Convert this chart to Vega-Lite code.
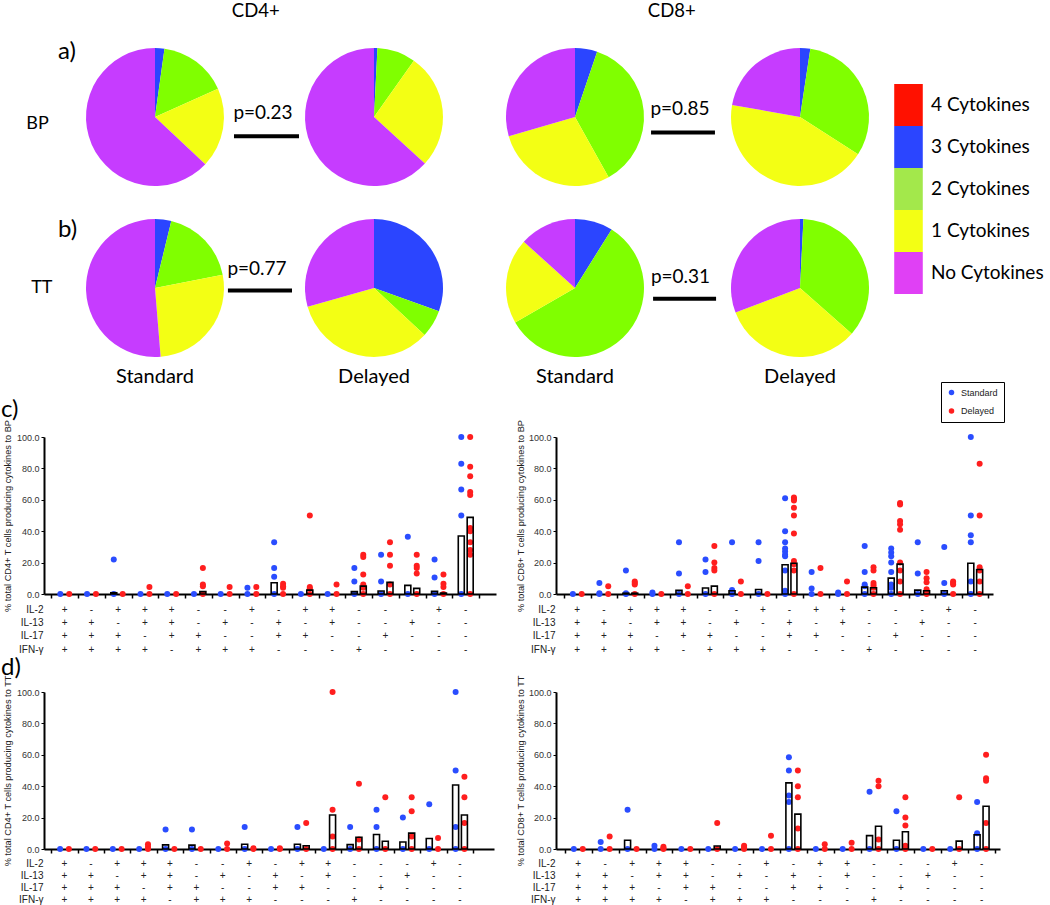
{
"$schema": "https://vega.github.io/schema/vega-lite/v6.json",
"padding": 0,
"background": "white",
"columns": 2,
"align": "none",
"bounds": "flush",
"spacing": {"row": 9, "column": 60},
"resolve": {"scale": {"color": "independent", "xOffset": "independent"}, "legend": {"color": "independent"}},
"config": {
  "view": {"stroke": null},
  "axis": {"grid": false, "labelFont": "Liberation Sans", "titleFont": "Liberation Sans", "labelOverlap": false}
},
"datasets": {
"pies": [
{"cell":"CD4 BP Standard","col":0,"row":0,"k":3,"cat":"3 Cytokines","v":2.2},
{"cell":"CD4 BP Standard","col":0,"row":0,"k":2,"cat":"2 Cytokines","v":16.1},
{"cell":"CD4 BP Standard","col":0,"row":0,"k":1,"cat":"1 Cytokines","v":18.7},
{"cell":"CD4 BP Standard","col":0,"row":0,"k":0,"cat":"No Cytokines","v":63.0},
{"cell":"CD4 BP Delayed","col":1,"row":0,"k":3,"cat":"3 Cytokines","v":0.8},
{"cell":"CD4 BP Delayed","col":1,"row":0,"k":2,"cat":"2 Cytokines","v":9.0},
{"cell":"CD4 BP Delayed","col":1,"row":0,"k":1,"cat":"1 Cytokines","v":27.0},
{"cell":"CD4 BP Delayed","col":1,"row":0,"k":0,"cat":"No Cytokines","v":63.2},
{"cell":"CD8 BP Standard","col":2,"row":0,"k":3,"cat":"3 Cytokines","v":5.2},
{"cell":"CD8 BP Standard","col":2,"row":0,"k":2,"cat":"2 Cytokines","v":36.7},
{"cell":"CD8 BP Standard","col":2,"row":0,"k":1,"cat":"1 Cytokines","v":28.6},
{"cell":"CD8 BP Standard","col":2,"row":0,"k":0,"cat":"No Cytokines","v":29.5},
{"cell":"CD8 BP Delayed","col":3,"row":0,"k":3,"cat":"3 Cytokines","v":2.4},
{"cell":"CD8 BP Delayed","col":3,"row":0,"k":2,"cat":"2 Cytokines","v":31.7},
{"cell":"CD8 BP Delayed","col":3,"row":0,"k":1,"cat":"1 Cytokines","v":43.7},
{"cell":"CD8 BP Delayed","col":3,"row":0,"k":0,"cat":"No Cytokines","v":22.2},
{"cell":"CD4 TT Standard","col":0,"row":1,"k":3,"cat":"3 Cytokines","v":3.8},
{"cell":"CD4 TT Standard","col":0,"row":1,"k":2,"cat":"2 Cytokines","v":18.1},
{"cell":"CD4 TT Standard","col":0,"row":1,"k":1,"cat":"1 Cytokines","v":26.8},
{"cell":"CD4 TT Standard","col":0,"row":1,"k":0,"cat":"No Cytokines","v":51.3},
{"cell":"CD4 TT Delayed","col":1,"row":1,"k":3,"cat":"3 Cytokines","v":30.5},
{"cell":"CD4 TT Delayed","col":1,"row":1,"k":2,"cat":"2 Cytokines","v":6.4},
{"cell":"CD4 TT Delayed","col":1,"row":1,"k":1,"cat":"1 Cytokines","v":33.7},
{"cell":"CD4 TT Delayed","col":1,"row":1,"k":0,"cat":"No Cytokines","v":29.4},
{"cell":"CD8 TT Standard","col":2,"row":1,"k":3,"cat":"3 Cytokines","v":8.9},
{"cell":"CD8 TT Standard","col":2,"row":1,"k":2,"cat":"2 Cytokines","v":57.8},
{"cell":"CD8 TT Standard","col":2,"row":1,"k":1,"cat":"1 Cytokines","v":20.0},
{"cell":"CD8 TT Standard","col":2,"row":1,"k":0,"cat":"No Cytokines","v":13.3},
{"cell":"CD8 TT Delayed","col":3,"row":1,"k":3,"cat":"3 Cytokines","v":0.8},
{"cell":"CD8 TT Delayed","col":3,"row":1,"k":2,"cat":"2 Cytokines","v":35.7},
{"cell":"CD8 TT Delayed","col":3,"row":1,"k":1,"cat":"1 Cytokines","v":32.7},
{"cell":"CD8 TT Delayed","col":3,"row":1,"k":0,"cat":"No Cytokines","v":30.8}
],
"combos": [
{"g":1,"m":"IL-2","s":"+"},{"g":2,"m":"IL-2","s":"-"},{"g":3,"m":"IL-2","s":"+"},{"g":4,"m":"IL-2","s":"+"},{"g":5,"m":"IL-2","s":"+"},{"g":6,"m":"IL-2","s":"-"},{"g":7,"m":"IL-2","s":"-"},{"g":8,"m":"IL-2","s":"+"},{"g":9,"m":"IL-2","s":"-"},{"g":10,"m":"IL-2","s":"+"},{"g":11,"m":"IL-2","s":"+"},{"g":12,"m":"IL-2","s":"-"},{"g":13,"m":"IL-2","s":"-"},{"g":14,"m":"IL-2","s":"-"},{"g":15,"m":"IL-2","s":"+"},{"g":16,"m":"IL-2","s":"-"},
{"g":1,"m":"IL-13","s":"+"},{"g":2,"m":"IL-13","s":"+"},{"g":3,"m":"IL-13","s":"-"},{"g":4,"m":"IL-13","s":"+"},{"g":5,"m":"IL-13","s":"+"},{"g":6,"m":"IL-13","s":"-"},{"g":7,"m":"IL-13","s":"+"},{"g":8,"m":"IL-13","s":"-"},{"g":9,"m":"IL-13","s":"+"},{"g":10,"m":"IL-13","s":"-"},{"g":11,"m":"IL-13","s":"+"},{"g":12,"m":"IL-13","s":"-"},{"g":13,"m":"IL-13","s":"-"},{"g":14,"m":"IL-13","s":"+"},{"g":15,"m":"IL-13","s":"-"},{"g":16,"m":"IL-13","s":"-"},
{"g":1,"m":"IL-17","s":"+"},{"g":2,"m":"IL-17","s":"+"},{"g":3,"m":"IL-17","s":"+"},{"g":4,"m":"IL-17","s":"-"},{"g":5,"m":"IL-17","s":"+"},{"g":6,"m":"IL-17","s":"+"},{"g":7,"m":"IL-17","s":"-"},{"g":8,"m":"IL-17","s":"-"},{"g":9,"m":"IL-17","s":"+"},{"g":10,"m":"IL-17","s":"+"},{"g":11,"m":"IL-17","s":"-"},{"g":12,"m":"IL-17","s":"-"},{"g":13,"m":"IL-17","s":"+"},{"g":14,"m":"IL-17","s":"-"},{"g":15,"m":"IL-17","s":"-"},{"g":16,"m":"IL-17","s":"-"},
{"g":1,"m":"IFN-γ","s":"+"},{"g":2,"m":"IFN-γ","s":"+"},{"g":3,"m":"IFN-γ","s":"+"},{"g":4,"m":"IFN-γ","s":"+"},{"g":5,"m":"IFN-γ","s":"-"},{"g":6,"m":"IFN-γ","s":"+"},{"g":7,"m":"IFN-γ","s":"+"},{"g":8,"m":"IFN-γ","s":"+"},{"g":9,"m":"IFN-γ","s":"-"},{"g":10,"m":"IFN-γ","s":"-"},{"g":11,"m":"IFN-γ","s":"-"},{"g":12,"m":"IFN-γ","s":"+"},{"g":13,"m":"IFN-γ","s":"-"},{"g":14,"m":"IFN-γ","s":"-"},{"g":15,"m":"IFN-γ","s":"-"},{"g":16,"m":"IFN-γ","s":"-"}
],
"dots": [
{"p":"CD4BP","g":1,"t":"Standard","v":0},{"p":"CD4BP","g":1,"t":"Delayed","v":0},
{"p":"CD4BP","g":2,"t":"Standard","v":0},{"p":"CD4BP","g":2,"t":"Delayed","v":0},
{"p":"CD4BP","g":3,"t":"Standard","v":22},{"p":"CD4BP","g":3,"t":"Standard","v":0},{"p":"CD4BP","g":3,"t":"Delayed","v":0},
{"p":"CD4BP","g":4,"t":"Standard","v":0},{"p":"CD4BP","g":4,"t":"Delayed","v":4.5},{"p":"CD4BP","g":4,"t":"Delayed","v":0},
{"p":"CD4BP","g":5,"t":"Standard","v":0},{"p":"CD4BP","g":5,"t":"Delayed","v":0},
{"p":"CD4BP","g":6,"t":"Standard","v":0},{"p":"CD4BP","g":6,"t":"Delayed","v":16.5},{"p":"CD4BP","g":6,"t":"Delayed","v":6},{"p":"CD4BP","g":6,"t":"Delayed","v":5},{"p":"CD4BP","g":6,"t":"Delayed","v":0},
{"p":"CD4BP","g":7,"t":"Standard","v":0},{"p":"CD4BP","g":7,"t":"Delayed","v":4.5},{"p":"CD4BP","g":7,"t":"Delayed","v":0},
{"p":"CD4BP","g":8,"t":"Standard","v":4},{"p":"CD4BP","g":8,"t":"Standard","v":0},{"p":"CD4BP","g":8,"t":"Delayed","v":4.5},{"p":"CD4BP","g":8,"t":"Delayed","v":0},
{"p":"CD4BP","g":9,"t":"Standard","v":33},{"p":"CD4BP","g":9,"t":"Standard","v":16.5},{"p":"CD4BP","g":9,"t":"Standard","v":11},{"p":"CD4BP","g":9,"t":"Standard","v":0},{"p":"CD4BP","g":9,"t":"Delayed","v":6.5},{"p":"CD4BP","g":9,"t":"Delayed","v":5},{"p":"CD4BP","g":9,"t":"Delayed","v":4},{"p":"CD4BP","g":9,"t":"Delayed","v":0},
{"p":"CD4BP","g":10,"t":"Standard","v":0},{"p":"CD4BP","g":10,"t":"Delayed","v":50},{"p":"CD4BP","g":10,"t":"Delayed","v":4.5},{"p":"CD4BP","g":10,"t":"Delayed","v":3.5},{"p":"CD4BP","g":10,"t":"Delayed","v":0},
{"p":"CD4BP","g":11,"t":"Standard","v":0},{"p":"CD4BP","g":11,"t":"Delayed","v":6},{"p":"CD4BP","g":11,"t":"Delayed","v":0},
{"p":"CD4BP","g":12,"t":"Standard","v":16.5},{"p":"CD4BP","g":12,"t":"Standard","v":8},{"p":"CD4BP","g":12,"t":"Standard","v":0},{"p":"CD4BP","g":12,"t":"Delayed","v":25},{"p":"CD4BP","g":12,"t":"Delayed","v":23.5},{"p":"CD4BP","g":12,"t":"Delayed","v":12.5},{"p":"CD4BP","g":12,"t":"Delayed","v":6},{"p":"CD4BP","g":12,"t":"Delayed","v":4},{"p":"CD4BP","g":12,"t":"Delayed","v":0},
{"p":"CD4BP","g":13,"t":"Standard","v":25},{"p":"CD4BP","g":13,"t":"Standard","v":8},{"p":"CD4BP","g":13,"t":"Standard","v":0},{"p":"CD4BP","g":13,"t":"Delayed","v":33},{"p":"CD4BP","g":13,"t":"Delayed","v":25},{"p":"CD4BP","g":13,"t":"Delayed","v":18},{"p":"CD4BP","g":13,"t":"Delayed","v":6},{"p":"CD4BP","g":13,"t":"Delayed","v":0},
{"p":"CD4BP","g":14,"t":"Standard","v":36.5},{"p":"CD4BP","g":14,"t":"Standard","v":0},{"p":"CD4BP","g":14,"t":"Delayed","v":25},{"p":"CD4BP","g":14,"t":"Delayed","v":18},{"p":"CD4BP","g":14,"t":"Delayed","v":16.5},{"p":"CD4BP","g":14,"t":"Delayed","v":13},{"p":"CD4BP","g":14,"t":"Delayed","v":0},
{"p":"CD4BP","g":15,"t":"Standard","v":22},{"p":"CD4BP","g":15,"t":"Standard","v":10.5},{"p":"CD4BP","g":15,"t":"Standard","v":0},{"p":"CD4BP","g":15,"t":"Delayed","v":12.5},{"p":"CD4BP","g":15,"t":"Delayed","v":6.5},{"p":"CD4BP","g":15,"t":"Delayed","v":4.5},{"p":"CD4BP","g":15,"t":"Delayed","v":0},
{"p":"CD4BP","g":16,"t":"Standard","v":100},{"p":"CD4BP","g":16,"t":"Standard","v":83},{"p":"CD4BP","g":16,"t":"Standard","v":66.5},{"p":"CD4BP","g":16,"t":"Standard","v":50},{"p":"CD4BP","g":16,"t":"Standard","v":0},{"p":"CD4BP","g":16,"t":"Delayed","v":100},{"p":"CD4BP","g":16,"t":"Delayed","v":81},{"p":"CD4BP","g":16,"t":"Delayed","v":75},{"p":"CD4BP","g":16,"t":"Delayed","v":65},{"p":"CD4BP","g":16,"t":"Delayed","v":63},{"p":"CD4BP","g":16,"t":"Delayed","v":42},{"p":"CD4BP","g":16,"t":"Delayed","v":40},{"p":"CD4BP","g":16,"t":"Delayed","v":33},{"p":"CD4BP","g":16,"t":"Delayed","v":28},{"p":"CD4BP","g":16,"t":"Delayed","v":25},{"p":"CD4BP","g":16,"t":"Delayed","v":0},
{"p":"CD8BP","g":1,"t":"Standard","v":0},{"p":"CD8BP","g":1,"t":"Delayed","v":0},
{"p":"CD8BP","g":2,"t":"Standard","v":7},{"p":"CD8BP","g":2,"t":"Standard","v":0.5},{"p":"CD8BP","g":2,"t":"Standard","v":0},{"p":"CD8BP","g":2,"t":"Delayed","v":5},{"p":"CD8BP","g":2,"t":"Delayed","v":0},
{"p":"CD8BP","g":3,"t":"Standard","v":15},{"p":"CD8BP","g":3,"t":"Standard","v":0.5},{"p":"CD8BP","g":3,"t":"Standard","v":0},{"p":"CD8BP","g":3,"t":"Delayed","v":8},{"p":"CD8BP","g":3,"t":"Delayed","v":7},{"p":"CD8BP","g":3,"t":"Delayed","v":6},{"p":"CD8BP","g":3,"t":"Delayed","v":0},
{"p":"CD8BP","g":4,"t":"Standard","v":1},{"p":"CD8BP","g":4,"t":"Standard","v":0},{"p":"CD8BP","g":4,"t":"Delayed","v":0},
{"p":"CD8BP","g":5,"t":"Standard","v":33},{"p":"CD8BP","g":5,"t":"Standard","v":13},{"p":"CD8BP","g":5,"t":"Standard","v":0},{"p":"CD8BP","g":5,"t":"Delayed","v":5},{"p":"CD8BP","g":5,"t":"Delayed","v":0},
{"p":"CD8BP","g":6,"t":"Standard","v":22},{"p":"CD8BP","g":6,"t":"Standard","v":14},{"p":"CD8BP","g":6,"t":"Standard","v":0},{"p":"CD8BP","g":6,"t":"Delayed","v":30.5},{"p":"CD8BP","g":6,"t":"Delayed","v":20},{"p":"CD8BP","g":6,"t":"Delayed","v":16.5},{"p":"CD8BP","g":6,"t":"Delayed","v":15},{"p":"CD8BP","g":6,"t":"Delayed","v":0},
{"p":"CD8BP","g":7,"t":"Standard","v":33},{"p":"CD8BP","g":7,"t":"Standard","v":2.5},{"p":"CD8BP","g":7,"t":"Standard","v":0},{"p":"CD8BP","g":7,"t":"Delayed","v":8},{"p":"CD8BP","g":7,"t":"Delayed","v":0},
{"p":"CD8BP","g":8,"t":"Standard","v":33},{"p":"CD8BP","g":8,"t":"Standard","v":21},{"p":"CD8BP","g":8,"t":"Standard","v":0},{"p":"CD8BP","g":8,"t":"Delayed","v":0},
{"p":"CD8BP","g":9,"t":"Standard","v":61},{"p":"CD8BP","g":9,"t":"Standard","v":40},{"p":"CD8BP","g":9,"t":"Standard","v":33},{"p":"CD8BP","g":9,"t":"Standard","v":29},{"p":"CD8BP","g":9,"t":"Standard","v":27},{"p":"CD8BP","g":9,"t":"Standard","v":25},{"p":"CD8BP","g":9,"t":"Standard","v":24},{"p":"CD8BP","g":9,"t":"Standard","v":15},{"p":"CD8BP","g":9,"t":"Standard","v":2},{"p":"CD8BP","g":9,"t":"Standard","v":0},
{"p":"CD8BP","g":9,"t":"Delayed","v":61.5},{"p":"CD8BP","g":9,"t":"Delayed","v":60.5},{"p":"CD8BP","g":9,"t":"Delayed","v":59.5},{"p":"CD8BP","g":9,"t":"Delayed","v":55},{"p":"CD8BP","g":9,"t":"Delayed","v":50},{"p":"CD8BP","g":9,"t":"Delayed","v":38.5},{"p":"CD8BP","g":9,"t":"Delayed","v":21},{"p":"CD8BP","g":9,"t":"Delayed","v":19},{"p":"CD8BP","g":9,"t":"Delayed","v":15},{"p":"CD8BP","g":9,"t":"Delayed","v":0},
{"p":"CD8BP","g":10,"t":"Standard","v":14},{"p":"CD8BP","g":10,"t":"Standard","v":3.5},{"p":"CD8BP","g":10,"t":"Standard","v":0},{"p":"CD8BP","g":10,"t":"Delayed","v":16.5},{"p":"CD8BP","g":10,"t":"Delayed","v":0},
{"p":"CD8BP","g":11,"t":"Standard","v":1},{"p":"CD8BP","g":11,"t":"Standard","v":0},{"p":"CD8BP","g":11,"t":"Delayed","v":8},{"p":"CD8BP","g":11,"t":"Delayed","v":0},
{"p":"CD8BP","g":12,"t":"Standard","v":30.5},{"p":"CD8BP","g":12,"t":"Standard","v":14},{"p":"CD8BP","g":12,"t":"Standard","v":6},{"p":"CD8BP","g":12,"t":"Standard","v":5},{"p":"CD8BP","g":12,"t":"Standard","v":0},{"p":"CD8BP","g":12,"t":"Delayed","v":17},{"p":"CD8BP","g":12,"t":"Delayed","v":15},{"p":"CD8BP","g":12,"t":"Delayed","v":7},{"p":"CD8BP","g":12,"t":"Delayed","v":5.5},{"p":"CD8BP","g":12,"t":"Delayed","v":4},{"p":"CD8BP","g":12,"t":"Delayed","v":0},
{"p":"CD8BP","g":13,"t":"Standard","v":29},{"p":"CD8BP","g":13,"t":"Standard","v":26.5},{"p":"CD8BP","g":13,"t":"Standard","v":24},{"p":"CD8BP","g":13,"t":"Standard","v":20},{"p":"CD8BP","g":13,"t":"Standard","v":14},{"p":"CD8BP","g":13,"t":"Standard","v":6},{"p":"CD8BP","g":13,"t":"Standard","v":4},{"p":"CD8BP","g":13,"t":"Standard","v":0},
{"p":"CD8BP","g":13,"t":"Delayed","v":58},{"p":"CD8BP","g":13,"t":"Delayed","v":57},{"p":"CD8BP","g":13,"t":"Delayed","v":46.5},{"p":"CD8BP","g":13,"t":"Delayed","v":44.5},{"p":"CD8BP","g":13,"t":"Delayed","v":41},{"p":"CD8BP","g":13,"t":"Delayed","v":20},{"p":"CD8BP","g":13,"t":"Delayed","v":15},{"p":"CD8BP","g":13,"t":"Delayed","v":8},{"p":"CD8BP","g":13,"t":"Delayed","v":0},
{"p":"CD8BP","g":14,"t":"Standard","v":33},{"p":"CD8BP","g":14,"t":"Standard","v":13},{"p":"CD8BP","g":14,"t":"Standard","v":0},{"p":"CD8BP","g":14,"t":"Delayed","v":14},{"p":"CD8BP","g":14,"t":"Delayed","v":10},{"p":"CD8BP","g":14,"t":"Delayed","v":7.5},{"p":"CD8BP","g":14,"t":"Delayed","v":3},{"p":"CD8BP","g":14,"t":"Delayed","v":1},{"p":"CD8BP","g":14,"t":"Delayed","v":0},
{"p":"CD8BP","g":15,"t":"Standard","v":30},{"p":"CD8BP","g":15,"t":"Standard","v":7},{"p":"CD8BP","g":15,"t":"Standard","v":0},{"p":"CD8BP","g":15,"t":"Delayed","v":8},{"p":"CD8BP","g":15,"t":"Delayed","v":7},{"p":"CD8BP","g":15,"t":"Delayed","v":6},{"p":"CD8BP","g":15,"t":"Delayed","v":0},
{"p":"CD8BP","g":16,"t":"Standard","v":100},{"p":"CD8BP","g":16,"t":"Standard","v":50},{"p":"CD8BP","g":16,"t":"Standard","v":37.5},{"p":"CD8BP","g":16,"t":"Standard","v":33},{"p":"CD8BP","g":16,"t":"Standard","v":8},{"p":"CD8BP","g":16,"t":"Standard","v":0},{"p":"CD8BP","g":16,"t":"Delayed","v":83},{"p":"CD8BP","g":16,"t":"Delayed","v":50},{"p":"CD8BP","g":16,"t":"Delayed","v":17},{"p":"CD8BP","g":16,"t":"Delayed","v":15},{"p":"CD8BP","g":16,"t":"Delayed","v":8},{"p":"CD8BP","g":16,"t":"Delayed","v":0},
{"p":"CD4TT","g":1,"t":"Standard","v":0},{"p":"CD4TT","g":1,"t":"Delayed","v":0},
{"p":"CD4TT","g":2,"t":"Standard","v":0},{"p":"CD4TT","g":2,"t":"Delayed","v":0},
{"p":"CD4TT","g":3,"t":"Standard","v":0},{"p":"CD4TT","g":3,"t":"Delayed","v":0},
{"p":"CD4TT","g":4,"t":"Standard","v":0},{"p":"CD4TT","g":4,"t":"Delayed","v":3},{"p":"CD4TT","g":4,"t":"Delayed","v":1.5},{"p":"CD4TT","g":4,"t":"Delayed","v":0},
{"p":"CD4TT","g":5,"t":"Standard","v":12.5},{"p":"CD4TT","g":5,"t":"Standard","v":0},{"p":"CD4TT","g":5,"t":"Delayed","v":0},
{"p":"CD4TT","g":6,"t":"Standard","v":12.5},{"p":"CD4TT","g":6,"t":"Standard","v":0},{"p":"CD4TT","g":6,"t":"Delayed","v":0},
{"p":"CD4TT","g":7,"t":"Standard","v":0},{"p":"CD4TT","g":7,"t":"Delayed","v":3.5},{"p":"CD4TT","g":7,"t":"Delayed","v":0},
{"p":"CD4TT","g":8,"t":"Standard","v":14},{"p":"CD4TT","g":8,"t":"Standard","v":0},{"p":"CD4TT","g":8,"t":"Delayed","v":0.5},{"p":"CD4TT","g":8,"t":"Delayed","v":0},
{"p":"CD4TT","g":9,"t":"Standard","v":0},{"p":"CD4TT","g":9,"t":"Delayed","v":0.5},{"p":"CD4TT","g":9,"t":"Delayed","v":0},
{"p":"CD4TT","g":10,"t":"Standard","v":14},{"p":"CD4TT","g":10,"t":"Standard","v":0},{"p":"CD4TT","g":10,"t":"Delayed","v":16.5},{"p":"CD4TT","g":10,"t":"Delayed","v":0},
{"p":"CD4TT","g":11,"t":"Standard","v":0},{"p":"CD4TT","g":11,"t":"Delayed","v":100},{"p":"CD4TT","g":11,"t":"Delayed","v":25},{"p":"CD4TT","g":11,"t":"Delayed","v":8},{"p":"CD4TT","g":11,"t":"Delayed","v":0},
{"p":"CD4TT","g":12,"t":"Standard","v":14},{"p":"CD4TT","g":12,"t":"Standard","v":0},{"p":"CD4TT","g":12,"t":"Delayed","v":41.5},{"p":"CD4TT","g":12,"t":"Delayed","v":6},{"p":"CD4TT","g":12,"t":"Delayed","v":0},
{"p":"CD4TT","g":13,"t":"Standard","v":25},{"p":"CD4TT","g":13,"t":"Standard","v":14},{"p":"CD4TT","g":13,"t":"Standard","v":0},{"p":"CD4TT","g":13,"t":"Delayed","v":33},{"p":"CD4TT","g":13,"t":"Delayed","v":0},
{"p":"CD4TT","g":14,"t":"Standard","v":20},{"p":"CD4TT","g":14,"t":"Standard","v":0},{"p":"CD4TT","g":14,"t":"Delayed","v":33},{"p":"CD4TT","g":14,"t":"Delayed","v":24},{"p":"CD4TT","g":14,"t":"Delayed","v":8},{"p":"CD4TT","g":14,"t":"Delayed","v":0},
{"p":"CD4TT","g":15,"t":"Standard","v":28.5},{"p":"CD4TT","g":15,"t":"Standard","v":0},{"p":"CD4TT","g":15,"t":"Delayed","v":7},{"p":"CD4TT","g":15,"t":"Delayed","v":0},
{"p":"CD4TT","g":16,"t":"Standard","v":100},{"p":"CD4TT","g":16,"t":"Standard","v":50},{"p":"CD4TT","g":16,"t":"Standard","v":14},{"p":"CD4TT","g":16,"t":"Standard","v":0},{"p":"CD4TT","g":16,"t":"Delayed","v":46},{"p":"CD4TT","g":16,"t":"Delayed","v":33},{"p":"CD4TT","g":16,"t":"Delayed","v":16.5},{"p":"CD4TT","g":16,"t":"Delayed","v":0},
{"p":"CD8TT","g":1,"t":"Standard","v":0},{"p":"CD8TT","g":1,"t":"Delayed","v":0},
{"p":"CD8TT","g":2,"t":"Standard","v":4.5},{"p":"CD8TT","g":2,"t":"Standard","v":0},{"p":"CD8TT","g":2,"t":"Delayed","v":8},{"p":"CD8TT","g":2,"t":"Delayed","v":0},
{"p":"CD8TT","g":3,"t":"Standard","v":25},{"p":"CD8TT","g":3,"t":"Standard","v":0},{"p":"CD8TT","g":3,"t":"Delayed","v":0},
{"p":"CD8TT","g":4,"t":"Standard","v":2},{"p":"CD8TT","g":4,"t":"Standard","v":0},{"p":"CD8TT","g":4,"t":"Delayed","v":1.5},{"p":"CD8TT","g":4,"t":"Delayed","v":0.5},{"p":"CD8TT","g":4,"t":"Delayed","v":0},
{"p":"CD8TT","g":5,"t":"Standard","v":0},{"p":"CD8TT","g":5,"t":"Delayed","v":0},
{"p":"CD8TT","g":6,"t":"Standard","v":0},{"p":"CD8TT","g":6,"t":"Delayed","v":16.5},{"p":"CD8TT","g":6,"t":"Delayed","v":0},
{"p":"CD8TT","g":7,"t":"Standard","v":0},{"p":"CD8TT","g":7,"t":"Delayed","v":2},{"p":"CD8TT","g":7,"t":"Delayed","v":1},{"p":"CD8TT","g":7,"t":"Delayed","v":0},
{"p":"CD8TT","g":8,"t":"Standard","v":0},{"p":"CD8TT","g":8,"t":"Delayed","v":8.5},{"p":"CD8TT","g":8,"t":"Delayed","v":0},
{"p":"CD8TT","g":9,"t":"Standard","v":58.5},{"p":"CD8TT","g":9,"t":"Standard","v":50},{"p":"CD8TT","g":9,"t":"Standard","v":34},{"p":"CD8TT","g":9,"t":"Standard","v":30},{"p":"CD8TT","g":9,"t":"Standard","v":0},{"p":"CD8TT","g":9,"t":"Delayed","v":50},{"p":"CD8TT","g":9,"t":"Delayed","v":40},{"p":"CD8TT","g":9,"t":"Delayed","v":33},{"p":"CD8TT","g":9,"t":"Delayed","v":13},{"p":"CD8TT","g":9,"t":"Delayed","v":0},
{"p":"CD8TT","g":10,"t":"Standard","v":0},{"p":"CD8TT","g":10,"t":"Delayed","v":3},{"p":"CD8TT","g":10,"t":"Delayed","v":0},
{"p":"CD8TT","g":11,"t":"Standard","v":0},{"p":"CD8TT","g":11,"t":"Delayed","v":4},{"p":"CD8TT","g":11,"t":"Delayed","v":0},
{"p":"CD8TT","g":12,"t":"Standard","v":36.5},{"p":"CD8TT","g":12,"t":"Standard","v":0},{"p":"CD8TT","g":12,"t":"Delayed","v":43.5},{"p":"CD8TT","g":12,"t":"Delayed","v":40},{"p":"CD8TT","g":12,"t":"Delayed","v":6},{"p":"CD8TT","g":12,"t":"Delayed","v":0},
{"p":"CD8TT","g":13,"t":"Standard","v":24},{"p":"CD8TT","g":13,"t":"Standard","v":0},{"p":"CD8TT","g":13,"t":"Delayed","v":33},{"p":"CD8TT","g":13,"t":"Delayed","v":20},{"p":"CD8TT","g":13,"t":"Delayed","v":15},{"p":"CD8TT","g":13,"t":"Delayed","v":2},{"p":"CD8TT","g":13,"t":"Delayed","v":0},
{"p":"CD8TT","g":14,"t":"Standard","v":0},{"p":"CD8TT","g":14,"t":"Delayed","v":0},
{"p":"CD8TT","g":15,"t":"Standard","v":0},{"p":"CD8TT","g":15,"t":"Delayed","v":33},{"p":"CD8TT","g":15,"t":"Delayed","v":0},
{"p":"CD8TT","g":16,"t":"Standard","v":30},{"p":"CD8TT","g":16,"t":"Standard","v":10},{"p":"CD8TT","g":16,"t":"Standard","v":0},{"p":"CD8TT","g":16,"t":"Delayed","v":60},{"p":"CD8TT","g":16,"t":"Delayed","v":45},{"p":"CD8TT","g":16,"t":"Delayed","v":43.5},{"p":"CD8TT","g":16,"t":"Delayed","v":16.5},{"p":"CD8TT","g":16,"t":"Delayed","v":0}
],
"bars": [
{"p":"CD4BP","g":3,"t":"Standard","v":0.8},{"p":"CD4BP","g":6,"t":"Delayed","v":1.5},{"p":"CD4BP","g":9,"t":"Standard","v":7.2},{"p":"CD4BP","g":10,"t":"Delayed","v":2.5},{"p":"CD4BP","g":12,"t":"Standard","v":1.5},{"p":"CD4BP","g":12,"t":"Delayed","v":5},{"p":"CD4BP","g":13,"t":"Standard","v":1.9},{"p":"CD4BP","g":13,"t":"Delayed","v":7.4},{"p":"CD4BP","g":14,"t":"Standard","v":5.5},{"p":"CD4BP","g":14,"t":"Delayed","v":3.6},{"p":"CD4BP","g":15,"t":"Standard","v":1.7},{"p":"CD4BP","g":15,"t":"Delayed","v":0.6},{"p":"CD4BP","g":16,"t":"Standard","v":36.9},{"p":"CD4BP","g":16,"t":"Delayed","v":48.8},
{"p":"CD8BP","g":3,"t":"Standard","v":0.5},{"p":"CD8BP","g":3,"t":"Delayed","v":0.5},{"p":"CD8BP","g":5,"t":"Standard","v":2.3},{"p":"CD8BP","g":6,"t":"Standard","v":3.8},{"p":"CD8BP","g":6,"t":"Delayed","v":5},{"p":"CD8BP","g":7,"t":"Standard","v":2.1},{"p":"CD8BP","g":8,"t":"Standard","v":2.9},{"p":"CD8BP","g":9,"t":"Standard","v":18.6},{"p":"CD8BP","g":9,"t":"Delayed","v":19.6},{"p":"CD8BP","g":12,"t":"Standard","v":4.4},{"p":"CD8BP","g":12,"t":"Delayed","v":4},{"p":"CD8BP","g":13,"t":"Standard","v":10.1},{"p":"CD8BP","g":13,"t":"Delayed","v":19},{"p":"CD8BP","g":14,"t":"Standard","v":2.5},{"p":"CD8BP","g":14,"t":"Delayed","v":2.1},{"p":"CD8BP","g":15,"t":"Standard","v":2.1},{"p":"CD8BP","g":16,"t":"Standard","v":19.6},{"p":"CD8BP","g":16,"t":"Delayed","v":15.6},
{"p":"CD4TT","g":5,"t":"Standard","v":2.6},{"p":"CD4TT","g":6,"t":"Standard","v":2.5},{"p":"CD4TT","g":8,"t":"Standard","v":3},{"p":"CD4TT","g":10,"t":"Standard","v":3},{"p":"CD4TT","g":10,"t":"Delayed","v":2.1},{"p":"CD4TT","g":11,"t":"Delayed","v":21.7},{"p":"CD4TT","g":12,"t":"Standard","v":2.8},{"p":"CD4TT","g":12,"t":"Delayed","v":7.5},{"p":"CD4TT","g":13,"t":"Standard","v":9.2},{"p":"CD4TT","g":13,"t":"Delayed","v":4.9},{"p":"CD4TT","g":14,"t":"Standard","v":4.5},{"p":"CD4TT","g":14,"t":"Delayed","v":10.1},{"p":"CD4TT","g":15,"t":"Standard","v":6.7},{"p":"CD4TT","g":16,"t":"Standard","v":40.8},{"p":"CD4TT","g":16,"t":"Delayed","v":21.7},
{"p":"CD8TT","g":3,"t":"Standard","v":5.6},{"p":"CD8TT","g":6,"t":"Delayed","v":1.9},{"p":"CD8TT","g":9,"t":"Standard","v":42.1},{"p":"CD8TT","g":9,"t":"Delayed","v":22.2},{"p":"CD8TT","g":12,"t":"Standard","v":8.5},{"p":"CD8TT","g":12,"t":"Delayed","v":14.5},{"p":"CD8TT","g":13,"t":"Standard","v":5.6},{"p":"CD8TT","g":13,"t":"Delayed","v":11},{"p":"CD8TT","g":15,"t":"Delayed","v":5},{"p":"CD8TT","g":16,"t":"Standard","v":9.1},{"p":"CD8TT","g":16,"t":"Delayed","v":27.2}
]
},
"concat": [
{
  "width": 452, "height": 428,
  "resolve": {"scale": {"x": "independent", "y": "independent", "color": "independent"}},
  "layer": [
    {
      "data": {"name": "pies"},
      "transform": [{"filter": "datum.col < 2"}, {"stack": "v", "groupby": ["cell"], "sort": [{"field": "k", "order": "descending"}], "as": ["t0", "t1"], "offset": "normalize"}],
      "mark": {"type": "arc", "radius": 69},
      "encoding": {
        "x": {"field": "col", "type": "quantitative", "scale": {"domain": [0,1], "range": [111,330], "nice": false, "zero": false}, "axis": null},
        "y": {"field": "row", "type": "quantitative", "scale": {"domain": [0,1], "range": [117,288], "nice": false, "zero": false}, "axis": null},
        "theta": {"field": "t0", "type": "quantitative", "scale": {"domain": [0, 1], "range": [0, 6.283185]}, "stack": null},
        "theta2": {"field": "t1"},
        "color": {"field": "cat", "type": "nominal", "scale": {"domain": ["4 Cytokines","3 Cytokines","2 Cytokines","1 Cytokines","No Cytokines"], "range": ["#FF1100","#2B45FF","#80FF00","#F3FF14","#C63CFF"]}, "legend": null}
      }
    },
    {
      "data": {"values": [{"cond": "Standard", "col": 0}, {"cond": "Delayed", "col": 1}]},
      "mark": {"type": "text", "font": "Lato", "fontSize": 20, "align": "center", "baseline": "alphabetic", "color": "black"},
      "encoding": {
        "x": {"field": "col", "type": "quantitative", "scale": {"domain": [0,1], "range": [111,330], "nice": false, "zero": false}, "axis": null},
        "y": {"datum": 1.557, "type": "quantitative", "scale": {"domain": [0,1], "range": [117,288], "nice": false, "zero": false}, "axis": null},
        "text": {"field": "cond"}
      }
    },
    {"data": {"values": [{}]}, "mark": {"type": "text", "font": "Lato", "fontSize": 18.5, "align": "center", "baseline": "alphabetic", "color": "black", "text": "CD4+"},
     "encoding": {"x": {"datum": 0.46, "type": "quantitative", "scale": {"domain": [0,1], "range": [111,330], "nice": false, "zero": false}, "axis": null}, "y": {"datum": -0.5848, "type": "quantitative", "scale": {"domain": [0,1], "range": [117,288], "nice": false, "zero": false}, "axis": null}}},
    {"data": {"values": [{}]}, "mark": {"type": "text", "font": "Lato", "fontSize": 24, "align": "left", "baseline": "alphabetic", "color": "black", "text": "a)"},
     "encoding": {"x": {"datum": -0.4429, "type": "quantitative", "scale": {"domain": [0,1], "range": [111,330], "nice": false, "zero": false}, "axis": null}, "y": {"datum": -0.339, "type": "quantitative", "scale": {"domain": [0,1], "range": [117,288], "nice": false, "zero": false}, "axis": null}}},
    {"data": {"values": [{}]}, "mark": {"type": "text", "font": "Lato", "fontSize": 24, "align": "left", "baseline": "alphabetic", "color": "black", "text": "b)"},
     "encoding": {"x": {"datum": -0.4429, "type": "quantitative", "scale": {"domain": [0,1], "range": [111,330], "nice": false, "zero": false}, "axis": null}, "y": {"datum": 0.7035, "type": "quantitative", "scale": {"domain": [0,1], "range": [117,288], "nice": false, "zero": false}, "axis": null}}},
    {"data": {"values": [{}]}, "mark": {"type": "text", "font": "Lato", "fontSize": 24, "align": "left", "baseline": "alphabetic", "color": "black", "text": "c)"},
     "encoding": {"x": {"datum": -0.7032, "type": "quantitative", "scale": {"domain": [0,1], "range": [111,330], "nice": false, "zero": false}, "axis": null}, "y": {"datum": 1.7544, "type": "quantitative", "scale": {"domain": [0,1], "range": [117,288], "nice": false, "zero": false}, "axis": null}}},
    {"data": {"values": [{}]}, "mark": {"type": "text", "font": "Lato", "fontSize": 24, "align": "left", "baseline": "alphabetic", "color": "black", "text": "d)"},
     "encoding": {"x": {"datum": -0.7032, "type": "quantitative", "scale": {"domain": [0,1], "range": [111,330], "nice": false, "zero": false}, "axis": null}, "y": {"datum": 3.263, "type": "quantitative", "scale": {"domain": [0,1], "range": [117,288], "nice": false, "zero": false}, "axis": null}}},
    {"data": {"values": [{}]}, "mark": {"type": "text", "font": "Lato", "fontSize": 18, "align": "center", "baseline": "alphabetic", "color": "black", "text": "BP"},
     "encoding": {"x": {"datum": -0.5365, "type": "quantitative", "scale": {"domain": [0,1], "range": [111,330], "nice": false, "zero": false}, "axis": null}, "y": {"datum": 0.072, "type": "quantitative", "scale": {"domain": [0,1], "range": [117,288], "nice": false, "zero": false}, "axis": null}}},
    {"data": {"values": [{}]}, "mark": {"type": "text", "font": "Lato", "fontSize": 18, "align": "center", "baseline": "alphabetic", "color": "black", "text": "TT"},
     "encoding": {"x": {"datum": -0.5168, "type": "quantitative", "scale": {"domain": [0,1], "range": [111,330], "nice": false, "zero": false}, "axis": null}, "y": {"datum": 1.0275, "type": "quantitative", "scale": {"domain": [0,1], "range": [117,288], "nice": false, "zero": false}, "axis": null}}},
    {"data": {"values": [{}]}, "mark": {"type": "text", "font": "Lato", "fontSize": 19, "align": "center", "baseline": "alphabetic", "color": "black", "text": "p=0.23"},
     "encoding": {"x": {"datum": 0.4932, "type": "quantitative", "scale": {"domain": [0,1], "range": [111,330], "nice": false, "zero": false}, "axis": null}, "y": {"datum": 0.0135, "type": "quantitative", "scale": {"domain": [0,1], "range": [117,288], "nice": false, "zero": false}, "axis": null}}},
    {"data": {"values": [{}]}, "mark": {"type": "text", "font": "Lato", "fontSize": 19, "align": "center", "baseline": "alphabetic", "color": "black", "text": "p=0.77"},
     "encoding": {"x": {"datum": 0.4658, "type": "quantitative", "scale": {"domain": [0,1], "range": [111,330], "nice": false, "zero": false}, "axis": null}, "y": {"datum": 0.924, "type": "quantitative", "scale": {"domain": [0,1], "range": [117,288], "nice": false, "zero": false}, "axis": null}}},
    {"data": {"values": [{}]}, "mark": {"type": "rule", "strokeWidth": 4, "color": "black"},
     "encoding": {"x": {"datum": 0.3607, "type": "quantitative", "scale": {"domain": [0,1], "range": [111,330], "nice": false, "zero": false}, "axis": null}, "x2": {"datum": 0.6575}, "y": {"datum": 0.113, "type": "quantitative", "scale": {"domain": [0,1], "range": [117,288], "nice": false, "zero": false}, "axis": null}}},
    {"data": {"values": [{}]}, "mark": {"type": "rule", "strokeWidth": 4, "color": "black"},
     "encoding": {"x": {"datum": 0.333, "type": "quantitative", "scale": {"domain": [0,1], "range": [111,330], "nice": false, "zero": false}, "axis": null}, "x2": {"datum": 0.6256}, "y": {"datum": 1.0146, "type": "quantitative", "scale": {"domain": [0,1], "range": [117,288], "nice": false, "zero": false}, "axis": null}}}
  ]
},
{
  "width": 495, "height": 428,
  "resolve": {"scale": {"x": "independent", "y": "independent", "color": "independent"}},
  "layer": [
    {
      "data": {"name": "pies"},
      "transform": [{"filter": "datum.col >= 2"}, {"stack": "v", "groupby": ["cell"], "sort": [{"field": "k", "order": "descending"}], "as": ["t0", "t1"], "offset": "normalize"}],
      "mark": {"type": "arc", "radius": 69},
      "encoding": {
        "x": {"field": "col", "type": "quantitative", "scale": {"domain": [2,3], "range": [19,244], "nice": false, "zero": false}, "axis": null},
        "y": {"field": "row", "type": "quantitative", "scale": {"domain": [0,1], "range": [117,288], "nice": false, "zero": false}, "axis": null},
        "theta": {"field": "t0", "type": "quantitative", "scale": {"domain": [0, 1], "range": [0, 6.283185]}, "stack": null},
        "theta2": {"field": "t1"},
        "color": {"field": "cat", "type": "nominal", "scale": {"domain": ["4 Cytokines","3 Cytokines","2 Cytokines","1 Cytokines","No Cytokines"], "range": ["#FF1100","#2B45FF","#80FF00","#F3FF14","#C63CFF"]}, "legend": null}
      }
    },
    {
      "data": {"values": [{"cat": "4 Cytokines"},{"cat": "3 Cytokines"},{"cat": "2 Cytokines"},{"cat": "1 Cytokines"},{"cat": "No Cytokines"}]},
      "mark": {"type": "arc", "radius": 0},
      "encoding": {
        "color": {"field": "cat", "type": "nominal", "scale": {"domain": ["4 Cytokines","3 Cytokines","2 Cytokines","1 Cytokines","No Cytokines"], "range": ["#FF1100","#2B45FF","#A3E84B","#F3FF14","#E040F5"]},
          "legend": {"orient": "none", "legendX": 331.5, "legendY": 84, "title": null, "symbolType": "M-0.68,-1H0.68V1H-0.68Z", "symbolSize": 1764, "symbolStrokeWidth": 0, "symbolOpacity": 1, "rowPadding": 0, "labelFontSize": 19, "labelFont": "Lato", "labelColor": "black", "labelOffset": 1.5, "padding": 0, "labelLimit": 300}}
      }
    },
    {
      "data": {"values": [{"cond": "Standard", "col": 2}, {"cond": "Delayed", "col": 3}]},
      "mark": {"type": "text", "font": "Lato", "fontSize": 20, "align": "center", "baseline": "alphabetic", "color": "black"},
      "encoding": {
        "x": {"field": "col", "type": "quantitative", "scale": {"domain": [2,3], "range": [19,244], "nice": false, "zero": false}, "axis": null},
        "y": {"datum": 1.557, "type": "quantitative", "scale": {"domain": [0,1], "range": [117,288], "nice": false, "zero": false}, "axis": null},
        "text": {"field": "cond"}
      }
    },
    {"data": {"values": [{}]}, "mark": {"type": "text", "font": "Lato", "fontSize": 18.5, "align": "center", "baseline": "alphabetic", "color": "black", "text": "CD8+"},
     "encoding": {"x": {"datum": 2.43, "type": "quantitative", "scale": {"domain": [2,3], "range": [19,244], "nice": false, "zero": false}, "axis": null}, "y": {"datum": -0.5848, "type": "quantitative", "scale": {"domain": [0,1], "range": [117,288], "nice": false, "zero": false}, "axis": null}}},
    {"data": {"values": [{}]}, "mark": {"type": "text", "font": "Lato", "fontSize": 19, "align": "center", "baseline": "alphabetic", "color": "black", "text": "p=0.85"},
     "encoding": {"x": {"datum": 2.4667, "type": "quantitative", "scale": {"domain": [2,3], "range": [19,244], "nice": false, "zero": false}, "axis": null}, "y": {"datum": -0.0117, "type": "quantitative", "scale": {"domain": [0,1], "range": [117,288], "nice": false, "zero": false}, "axis": null}}},
    {"data": {"values": [{}]}, "mark": {"type": "text", "font": "Lato", "fontSize": 19, "align": "center", "baseline": "alphabetic", "color": "black", "text": "p=0.31"},
     "encoding": {"x": {"datum": 2.4689, "type": "quantitative", "scale": {"domain": [2,3], "range": [19,244], "nice": false, "zero": false}, "axis": null}, "y": {"datum": 0.969, "type": "quantitative", "scale": {"domain": [0,1], "range": [117,288], "nice": false, "zero": false}, "axis": null}}},
    {"data": {"values": [{}]}, "mark": {"type": "rule", "strokeWidth": 4, "color": "black"},
     "encoding": {"x": {"datum": 2.338, "type": "quantitative", "scale": {"domain": [2,3], "range": [19,244], "nice": false, "zero": false}, "axis": null}, "x2": {"datum": 2.622}, "y": {"datum": 0.0906, "type": "quantitative", "scale": {"domain": [0,1], "range": [117,288], "nice": false, "zero": false}, "axis": null}}},
    {"data": {"values": [{}]}, "mark": {"type": "rule", "strokeWidth": 4, "color": "black"},
     "encoding": {"x": {"datum": 2.347, "type": "quantitative", "scale": {"domain": [2,3], "range": [19,244], "nice": false, "zero": false}, "axis": null}, "x2": {"datum": 2.627}, "y": {"datum": 1.0626, "type": "quantitative", "scale": {"domain": [0,1], "range": [117,288], "nice": false, "zero": false}, "axis": null}}}
  ]
},
{
  "width": 452, "height": 157,
  "layer": [
    {"data": {"name": "dots"}, "transform": [{"filter": "datum.p === 'CD4BP'"}],
     "mark": {"type": "point", "filled": true, "size": 36, "opacity": 1, "strokeWidth": 0},
     "encoding": {
       "x": {"field": "g", "type": "ordinal", "scale": {"type": "band", "domain": [1,2,3,4,5,6,7,8,9,10,11,12,13,14,15,16], "paddingInner": 0, "paddingOuter": 0.4545, "align": 0.3045}, "axis": {"title": null, "labels": false, "domainColor": "black", "domainWidth": 2, "ticks": true, "tickColor": "black", "tickWidth": 1.5, "tickSize": 4, "tickBand": "extent"}},
       "xOffset": {"field": "t", "type": "nominal", "scale": {"type": "band", "domain": ["Standard", "Delayed"], "paddingInner": 0, "paddingOuter": 0.5}},
       "y": {"field": "v", "type": "quantitative", "scale": {"domain": [0, 100], "nice": false}, "axis": {"values": [0,20,40,60,80,100], "tickCount": 12, "format": ".1f", "labelOverlap": false, "title": "% total CD4+ T cells producing cytokines to BP", "titleFontSize": 9.2, "titleFontWeight": "normal", "titleColor": "#222", "titlePadding": 4, "labelFontSize": 9, "labelColor": "#333", "labelPadding": 2, "tickSize": 3, "tickColor": "black", "tickWidth": 1, "domainColor": "black", "domainWidth": 2}},
       "color": {"field": "t", "type": "nominal", "scale": {"domain": ["Standard", "Delayed"], "range": ["#2A4DFF", "#FF1E1E"]}, "legend": null}
     }},
    {"data": {"name": "bars"}, "transform": [{"filter": "datum.p === 'CD4BP'"}],
     "mark": {"type": "bar", "filled": false, "stroke": "black", "strokeWidth": 1.6, "width": 6},
     "encoding": {
       "x": {"field": "g", "type": "ordinal", "scale": {"type": "band", "domain": [1,2,3,4,5,6,7,8,9,10,11,12,13,14,15,16], "paddingInner": 0, "paddingOuter": 0.4545, "align": 0.3045}},
       "xOffset": {"field": "t", "type": "nominal", "scale": {"type": "band", "domain": ["Standard", "Delayed"], "paddingInner": 0, "paddingOuter": 0.5}},
       "y": {"field": "v", "type": "quantitative", "scale": {"domain": [0, 100], "nice": false}}
     }}
  ]
},
{
  "width": 437, "height": 157,
  "layer": [
    {"data": {"name": "dots"}, "transform": [{"filter": "datum.p === 'CD8BP'"}],
     "mark": {"type": "point", "filled": true, "size": 36, "opacity": 1, "strokeWidth": 0},
     "encoding": {
       "x": {"field": "g", "type": "ordinal", "scale": {"type": "band", "domain": [1,2,3,4,5,6,7,8,9,10,11,12,13,14,15,16], "paddingInner": 0, "paddingOuter": 0.236, "align": 0.64}, "axis": {"title": null, "labels": false, "domainColor": "black", "domainWidth": 2, "ticks": true, "tickColor": "black", "tickWidth": 1.5, "tickSize": 4, "tickBand": "extent"}},
       "xOffset": {"field": "t", "type": "nominal", "scale": {"type": "band", "domain": ["Standard", "Delayed"], "paddingInner": 0, "paddingOuter": 0.5}},
       "y": {"field": "v", "type": "quantitative", "scale": {"domain": [0, 100], "nice": false}, "axis": {"values": [0,20,40,60,80,100], "tickCount": 12, "format": ".1f", "labelOverlap": false, "title": "% total CD8+ T cells producing cytokines to BP", "titleFontSize": 9.2, "titleFontWeight": "normal", "titleColor": "#222", "titlePadding": 3, "labelFontSize": 9, "labelColor": "#333", "labelPadding": 2, "tickSize": 3, "tickColor": "black", "tickWidth": 1, "domainColor": "black", "domainWidth": 2}},
       "color": {"field": "t", "type": "nominal", "scale": {"domain": ["Standard", "Delayed"], "range": ["#2A4DFF", "#FF1E1E"]},
         "legend": {"orient": "none", "legendX": 385, "legendY": -55, "title": null, "symbolType": "circle", "symbolSize": 30, "labelFontSize": 9, "labelFont": "Liberation Sans", "labelColor": "#222", "rowPadding": 8.5, "padding": 6, "strokeColor": "black", "labelOffset": 5}}
     }},
    {"data": {"name": "bars"}, "transform": [{"filter": "datum.p === 'CD8BP'"}],
     "mark": {"type": "bar", "filled": false, "stroke": "black", "strokeWidth": 1.6, "width": 6},
     "encoding": {
       "x": {"field": "g", "type": "ordinal", "scale": {"type": "band", "domain": [1,2,3,4,5,6,7,8,9,10,11,12,13,14,15,16], "paddingInner": 0, "paddingOuter": 0.236, "align": 0.64}},
       "xOffset": {"field": "t", "type": "nominal", "scale": {"type": "band", "domain": ["Standard", "Delayed"], "paddingInner": 0, "paddingOuter": 0.5}},
       "y": {"field": "v", "type": "quantitative", "scale": {"domain": [0, 100], "nice": false}}
     }}
  ]
},
{
  "width": 452, "height": 80,
  "data": {"name": "combos"},
  "mark": {"type": "text", "fontSize": 10, "font": "Liberation Sans", "color": "#222"},
  "encoding": {
    "x": {"field": "g", "type": "ordinal", "scale": {"type": "band", "domain": [1,2,3,4,5,6,7,8,9,10,11,12,13,14,15,16], "paddingInner": 0, "paddingOuter": 0.4545, "align": 0.3045}, "axis": null},
    "y": {"field": "m", "type": "nominal", "scale": {"type": "band", "domain": ["IL-2","IL-13","IL-17","IFN-γ"], "paddingInner": 0, "paddingOuter": 1.3333, "align": 0}, "axis": {"title": null, "domain": false, "ticks": false, "labelFontSize": 10, "labelColor": "#222", "labelPadding": 1}},
    "text": {"field": "s"}
  }
},
{
  "width": 437, "height": 80,
  "data": {"name": "combos"},
  "mark": {"type": "text", "fontSize": 10, "font": "Liberation Sans", "color": "#222"},
  "encoding": {
    "x": {"field": "g", "type": "ordinal", "scale": {"type": "band", "domain": [1,2,3,4,5,6,7,8,9,10,11,12,13,14,15,16], "paddingInner": 0, "paddingOuter": 0.236, "align": 0.64}, "axis": null},
    "y": {"field": "m", "type": "nominal", "scale": {"type": "band", "domain": ["IL-2","IL-13","IL-17","IFN-γ"], "paddingInner": 0, "paddingOuter": 1.3333, "align": 0}, "axis": {"title": null, "domain": false, "ticks": false, "labelFontSize": 10, "labelColor": "#222", "labelPadding": 1}},
    "text": {"field": "s"}
  }
},
{
  "width": 450, "height": 157,
  "layer": [
    {"data": {"name": "dots"}, "transform": [{"filter": "datum.p === 'CD4TT'"}],
     "mark": {"type": "point", "filled": true, "size": 36, "opacity": 1, "strokeWidth": 0},
     "encoding": {
       "x": {"field": "g", "type": "ordinal", "scale": {"type": "band", "domain": [1,2,3,4,5,6,7,8,9,10,11,12,13,14,15,16], "paddingInner": 0, "paddingOuter": 0.533, "align": 0.26}, "axis": {"title": null, "labels": false, "domainColor": "black", "domainWidth": 2, "ticks": true, "tickColor": "black", "tickWidth": 1.5, "tickSize": 4, "tickBand": "extent"}},
       "xOffset": {"field": "t", "type": "nominal", "scale": {"type": "band", "domain": ["Standard", "Delayed"], "paddingInner": 0, "paddingOuter": 0.5}},
       "y": {"field": "v", "type": "quantitative", "scale": {"domain": [0, 100], "nice": false}, "axis": {"values": [0,20,40,60,80,100], "tickCount": 12, "format": ".1f", "labelOverlap": false, "title": "% total CD4+ T cells producing cytokines to TT", "titleFontSize": 9.2, "titleFontWeight": "normal", "titleColor": "#222", "titlePadding": 4, "labelFontSize": 9, "labelColor": "#333", "labelPadding": 2, "tickSize": 3, "tickColor": "black", "tickWidth": 1, "domainColor": "black", "domainWidth": 2}},
       "color": {"field": "t", "type": "nominal", "scale": {"domain": ["Standard", "Delayed"], "range": ["#2A4DFF", "#FF1E1E"]}, "legend": null}
     }},
    {"data": {"name": "bars"}, "transform": [{"filter": "datum.p === 'CD4TT'"}],
     "mark": {"type": "bar", "filled": false, "stroke": "black", "strokeWidth": 1.6, "width": 6},
     "encoding": {
       "x": {"field": "g", "type": "ordinal", "scale": {"type": "band", "domain": [1,2,3,4,5,6,7,8,9,10,11,12,13,14,15,16], "paddingInner": 0, "paddingOuter": 0.533, "align": 0.26}},
       "xOffset": {"field": "t", "type": "nominal", "scale": {"type": "band", "domain": ["Standard", "Delayed"], "paddingInner": 0, "paddingOuter": 0.5}},
       "y": {"field": "v", "type": "quantitative", "scale": {"domain": [0, 100], "nice": false}}
     }}
  ]
},
{
  "width": 444, "height": 157,
  "layer": [
    {"data": {"name": "dots"}, "transform": [{"filter": "datum.p === 'CD8TT'"}],
     "mark": {"type": "point", "filled": true, "size": 36, "opacity": 1, "strokeWidth": 0},
     "encoding": {
       "x": {"field": "g", "type": "ordinal", "scale": {"type": "band", "domain": [1,2,3,4,5,6,7,8,9,10,11,12,13,14,15,16], "paddingInner": 0, "paddingOuter": 0.257, "align": 0.64}, "axis": {"title": null, "labels": false, "domainColor": "black", "domainWidth": 2, "ticks": true, "tickColor": "black", "tickWidth": 1.5, "tickSize": 4, "tickBand": "extent"}},
       "xOffset": {"field": "t", "type": "nominal", "scale": {"type": "band", "domain": ["Standard", "Delayed"], "paddingInner": 0, "paddingOuter": 0.5}},
       "y": {"field": "v", "type": "quantitative", "scale": {"domain": [0, 100], "nice": false}, "axis": {"values": [0,20,40,60,80,100], "tickCount": 12, "format": ".1f", "labelOverlap": false, "title": "% total CD8+ T cells producing cytokines to TT", "titleFontSize": 9.2, "titleFontWeight": "normal", "titleColor": "#222", "titlePadding": 3, "labelFontSize": 9, "labelColor": "#333", "labelPadding": 2, "tickSize": 3, "tickColor": "black", "tickWidth": 1, "domainColor": "black", "domainWidth": 2}},
       "color": {"field": "t", "type": "nominal", "scale": {"domain": ["Standard", "Delayed"], "range": ["#2A4DFF", "#FF1E1E"]}, "legend": null}
     }},
    {"data": {"name": "bars"}, "transform": [{"filter": "datum.p === 'CD8TT'"}],
     "mark": {"type": "bar", "filled": false, "stroke": "black", "strokeWidth": 1.6, "width": 6},
     "encoding": {
       "x": {"field": "g", "type": "ordinal", "scale": {"type": "band", "domain": [1,2,3,4,5,6,7,8,9,10,11,12,13,14,15,16], "paddingInner": 0, "paddingOuter": 0.257, "align": 0.64}},
       "xOffset": {"field": "t", "type": "nominal", "scale": {"type": "band", "domain": ["Standard", "Delayed"], "paddingInner": 0, "paddingOuter": 0.5}},
       "y": {"field": "v", "type": "quantitative", "scale": {"domain": [0, 100], "nice": false}}
     }}
  ]
},
{
  "width": 450, "height": 48,
  "data": {"name": "combos"},
  "mark": {"type": "text", "fontSize": 10, "font": "Liberation Sans", "color": "#222"},
  "encoding": {
    "x": {"field": "g", "type": "ordinal", "scale": {"type": "band", "domain": [1,2,3,4,5,6,7,8,9,10,11,12,13,14,15,16], "paddingInner": 0, "paddingOuter": 0.533, "align": 0.26}, "axis": null},
    "y": {"field": "m", "type": "nominal", "scale": {"type": "band", "domain": ["IL-2","IL-13","IL-17","IFN-γ"], "paddingInner": 0, "paddingOuter": 0}, "axis": {"title": null, "domain": false, "ticks": false, "labelFontSize": 10, "labelColor": "#222", "labelPadding": 1}},
    "text": {"field": "s"}
  }
},
{
  "width": 444, "height": 48,
  "data": {"name": "combos"},
  "mark": {"type": "text", "fontSize": 10, "font": "Liberation Sans", "color": "#222"},
  "encoding": {
    "x": {"field": "g", "type": "ordinal", "scale": {"type": "band", "domain": [1,2,3,4,5,6,7,8,9,10,11,12,13,14,15,16], "paddingInner": 0, "paddingOuter": 0.257, "align": 0.64}, "axis": null},
    "y": {"field": "m", "type": "nominal", "scale": {"type": "band", "domain": ["IL-2","IL-13","IL-17","IFN-γ"], "paddingInner": 0, "paddingOuter": 0}, "axis": {"title": null, "domain": false, "ticks": false, "labelFontSize": 10, "labelColor": "#222", "labelPadding": 1}},
    "text": {"field": "s"}
  }
}
]
}
